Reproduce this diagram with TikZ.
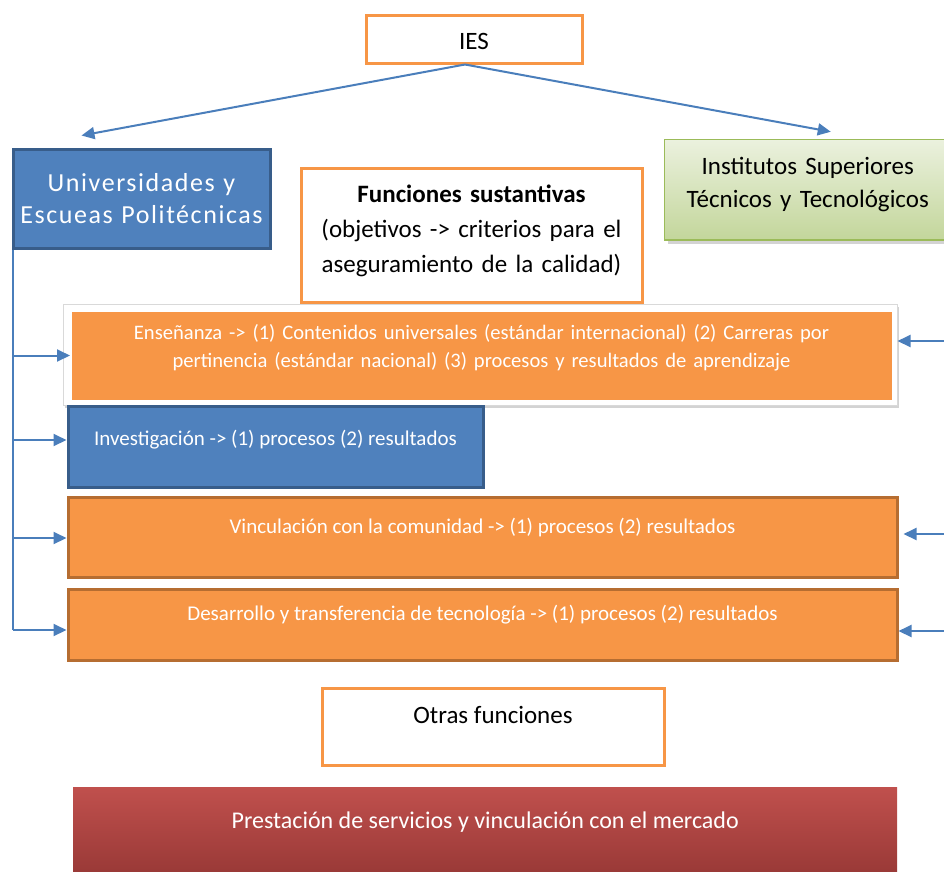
\documentclass[tikz,border=0pt]{standalone}
\usepackage{fontspec}
\setmainfont{Carlito}
\newfontfamily\widefont{Carlito}[LetterSpace=6.0]
\usetikzlibrary{arrows.meta,shadows}

\definecolor{linkblue}{HTML}{4A7EBB}
\definecolor{boxorange}{HTML}{F79646}
\definecolor{orangeedge}{HTML}{B66D31}
\definecolor{boxblue}{HTML}{4F81BD}
\definecolor{blueedge}{HTML}{385D8A}
\definecolor{greentop}{HTML}{EBF1DE}
\definecolor{greenbot}{HTML}{C3D69B}
\definecolor{greenedge}{HTML}{9BBB59}
\definecolor{redtop}{HTML}{C0504D}
\definecolor{redbot}{HTML}{943634}

\begin{document}
\begin{tikzpicture}[x=1pt,y=-1pt,>={Triangle[length=13pt,width=12pt]},
    every node/.style={inner xsep=0pt,inner ysep=0pt,anchor=north west,align=center},
    title box/.style={draw=boxorange,line width=3pt,fill=white,font=\fontsize{25}{34}\selectfont},
    fn box/.style={draw=orangeedge,line width=3pt,fill=boxorange,text=white,font=\fontsize{21}{28}\selectfont},
    blue box/.style={draw=blueedge,line width=3pt,fill=boxblue,text=white},
    wire/.style={draw=linkblue,line width=2pt},
    link/.style={wire,->}]
  \useasboundingbox (0,0) rectangle (944,871);

  % top level
  \node[title box,minimum width=216pt,text height=34.5pt,text depth=13.5pt] (ies) at (364.5,13.5) {IES};
  \node[blue box,text width=257pt,text height=42.5pt,text depth=56.5pt,
    font=\widefont\fontsize{26}{32}\selectfont] (univ) at (11.5,147.5) {Universidades y\\Escueas Politécnicas};
  \node[draw=greenedge,line width=1.5pt,top color=greentop,bottom color=greenbot,
    drop shadow={shadow xshift=3pt,shadow yshift=-4pt,opacity=0.35},
    text width=286.5pt,text height=35.25pt,text depth=65.25pt,font=\fontsize{25}{33}\selectfont]
    (inst) at (663.75,138.75) {Institutos Superiores\\Técnicos y Tecnológicos};
  \node[title box,text width=341pt,text height=34.5pt,text depth=99.5pt,font=\fontsize{25}{35}\selectfont]
    (fun) at (299.5,166.5) {\textbf{Funciones sustantivas}\\(objetivos -> criterios para el\\aseguramiento de la calidad)};

  % funciones sustantivas
  \node[draw=black!15,line width=1pt,fill=white,
    drop shadow={shadow xshift=2pt,shadow yshift=-3pt,opacity=0.35},
    minimum width=834pt,minimum height=101pt] (ensframe) at (62.5,303.5) {};
  \node[fn box,draw=none,text width=820pt,text height=28pt,text depth=60pt,
    font=\fontsize{20.6}{28}\selectfont] (ens) at (70,310)
    {Enseñanza -> (1) Contenidos universales (estándar internacional) (2) Carreras por\\pertinencia (estándar nacional) (3) procesos y resultados de aprendizaje};
  \node[blue box,minimum width=415pt,text height=39.5pt,text depth=41.5pt,font=\fontsize{21}{28}\selectfont]
    (inv) at (66.5,404.5) {Investigación -> (1) procesos (2) resultados};
  \node[fn box,minimum width=829pt,text height=36.5pt,text depth=43.5pt] (vinc) at (66.5,495.5)
    {Vinculación con la comunidad -> (1) procesos (2) resultados};
  \node[fn box,minimum width=829pt,text height=31.5pt,text depth=39.5pt] (des) at (66.5,587.5)
    {Desarrollo y transferencia de tecnología -> (1) procesos (2) resultados};

  % otras funciones
  \node[title box,minimum width=342pt,text height=35.5pt,text depth=41.5pt] (otras) at (320.5,686.5) {Otras funciones};
  \node[top color=redtop,bottom color=redbot,text=white,minimum width=824pt,text height=41pt,text depth=57pt,
    font=\fontsize{24}{30}\selectfont] (prest) at (73,787) {Prestación de servicios y vinculación con el mercado};

  % connectors
  \coordinate (invout) at (12.5,440);
  \coordinate (vincout) at (12.5,538);
  \coordinate (trunkend) at (12.5,630);
  \coordinate (ensin) at (946,341);
  \coordinate (vincin) at (946,534);
  \coordinate (desin) at (946,631);
  \draw[link] ([xshift=-9pt]ies.south) -- ([xshift=-60pt,yshift=12pt]univ.north);
  \draw[link] ([xshift=-9pt]ies.south) -- ([xshift=23pt,yshift=7pt]inst.north);
  \draw[wire] ([xshift=1pt]univ.south west) -- (trunkend);
  \draw[link] (ens.west -| trunkend) -- (ens.west);
  \draw[link] (invout) -- (invout -| inv.west);
  \draw[link] (vincout) -- (vincout -| vinc.west);
  \draw[link] (trunkend) -- (trunkend -| des.west);
  \draw[link] (ensin) -- (ensin -| ensframe.east);
  \draw[link,shorten >=5pt] (vincin) -- (vincin -| vinc.east);
  \draw[link] (desin) -- (desin -| des.east);
\end{tikzpicture}
\end{document}
